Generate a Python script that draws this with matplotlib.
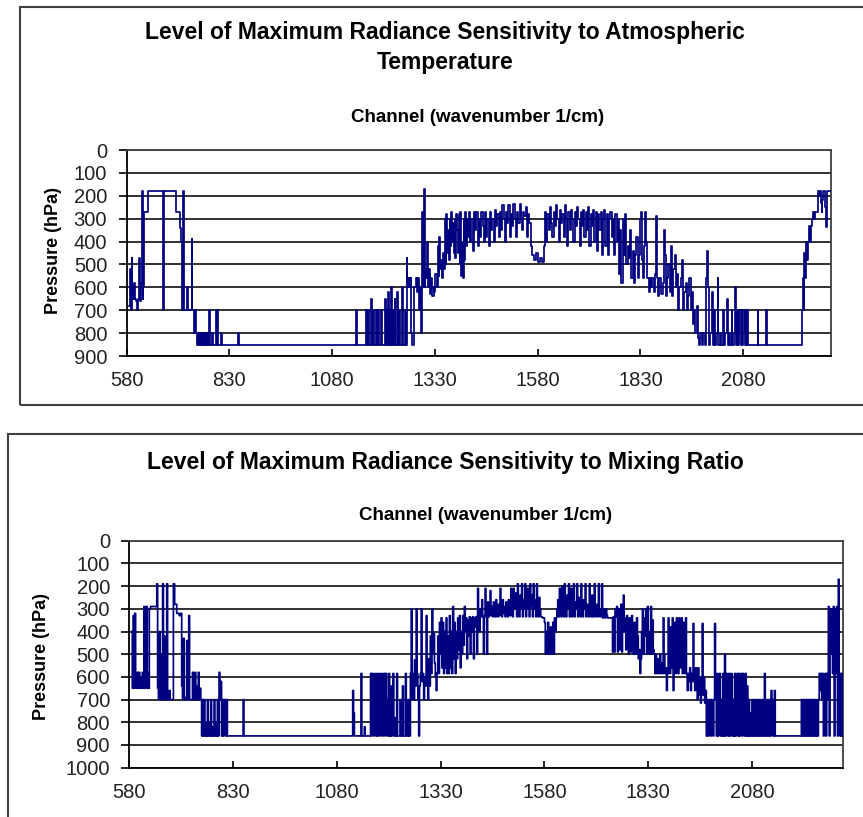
import matplotlib
matplotlib.use("Agg")
import matplotlib.pyplot as plt
from matplotlib.patches import Rectangle

# channel wavenumber (1/cm) and pressure level (hPa) of max sensitivity
temp_points = [
    (586, 680), (588, 520), (590, 700), (592, 470), (594, 600), (596, 650), (598, 580), (600, 650),
    (603, 660), (606, 700), (608, 650), (611, 470), (613, 660), (615, 580), (617, 180), (619, 650),
    (621, 600), (623, 270), (631, 180), (668, 700), (670, 180), (701, 270), (709, 340), (712, 400),
    (714, 700), (716, 400), (718, 180), (720, 700), (727, 600), (729, 700), (738, 390), (740, 700),
    (744, 800), (746, 700), (748, 800), (752, 850), (754, 800), (757, 850), (759, 800), (761, 850),
    (763, 800), (766, 850), (768, 800), (770, 850), (772, 800), (774, 850), (776, 800), (779, 850),
    (781, 700), (783, 850), (787, 800), (789, 850), (797, 700), (799, 850), (801, 700), (803, 850),
    (809, 800), (812, 850), (852, 800), (854, 850), (1138, 700), (1140, 850), (1163, 700), (1165, 850),
    (1167, 700), (1169, 850), (1175, 650), (1177, 850), (1179, 700), (1181, 850), (1187, 700), (1189, 850),
    (1192, 700), (1194, 850), (1200, 700), (1202, 850), (1208, 650), (1210, 850), (1212, 700), (1214, 850),
    (1216, 620), (1218, 850), (1220, 700), (1222, 850), (1224, 600), (1226, 850), (1228, 700), (1230, 850),
    (1232, 650), (1234, 850), (1238, 620), (1240, 850), (1242, 700), (1244, 850), (1250, 600), (1252, 850),
    (1257, 700), (1259, 850), (1261, 470), (1263, 600), (1266, 560), (1268, 600), (1271, 560), (1273, 800),
    (1275, 850), (1278, 800), (1280, 600), (1283, 560), (1286, 620), (1289, 560), (1292, 700), (1295, 600),
    (1297, 800), (1299, 270), (1301, 600), (1303, 170), (1305, 600), (1307, 520), (1309, 560), (1311, 400),
    (1313, 600), (1315, 520), (1318, 630), (1321, 560), (1324, 640), (1327, 600), (1329, 620), (1331, 540),
    (1334, 600), (1337, 420), (1339, 550), (1341, 380), (1343, 520), (1345, 480), (1348, 560), (1350, 450),
    (1352, 520), (1354, 300), (1356, 500), (1358, 280), (1360, 450), (1362, 350), (1364, 480), (1366, 300),
    (1368, 420), (1370, 270), (1372, 400), (1374, 320), (1376, 450), (1378, 300), (1380, 470), (1382, 280),
    (1384, 350), (1386, 450), (1388, 280), (1390, 500), (1392, 270), (1394, 550), (1396, 400), (1398, 560),
    (1400, 300), (1402, 480), (1404, 270), (1406, 420), (1408, 300), (1410, 380), (1413, 270), (1416, 400),
    (1419, 300), (1422, 440), (1425, 270), (1428, 350), (1431, 270), (1434, 420), (1437, 300), (1440, 380),
    (1443, 270), (1446, 330), (1449, 400), (1452, 270), (1455, 380), (1458, 300), (1461, 420), (1464, 270),
    (1467, 350), (1470, 300), (1473, 400), (1476, 260), (1479, 330), (1482, 280), (1485, 380), (1488, 270),
    (1491, 350), (1494, 240), (1497, 300), (1500, 400), (1503, 270), (1506, 320), (1509, 240), (1512, 380),
    (1515, 280), (1518, 330), (1521, 235), (1524, 300), (1527, 380), (1530, 270), (1533, 320), (1536, 235),
    (1539, 300), (1542, 350), (1545, 270), (1548, 290), (1551, 250), (1554, 380), (1557, 280), (1560, 320),
    (1563, 420), (1566, 460), (1570, 480), (1575, 450), (1580, 490), (1585, 470), (1590, 490), (1595, 420),
    (1598, 270), (1601, 400), (1604, 280), (1607, 350), (1610, 250), (1613, 320), (1616, 380), (1619, 270),
    (1622, 330), (1625, 240), (1628, 300), (1631, 400), (1634, 260), (1637, 320), (1640, 280), (1643, 380),
    (1646, 240), (1649, 300), (1652, 420), (1655, 270), (1658, 350), (1661, 260), (1664, 300), (1667, 400),
    (1670, 270), (1673, 330), (1676, 250), (1679, 300), (1682, 420), (1685, 270), (1688, 330), (1691, 260),
    (1694, 380), (1697, 270), (1700, 350), (1703, 250), (1706, 420), (1709, 280), (1712, 330), (1715, 260),
    (1718, 400), (1721, 270), (1724, 440), (1727, 280), (1730, 350), (1733, 270), (1736, 460), (1739, 300),
    (1742, 260), (1745, 420), (1748, 280), (1751, 460), (1754, 300), (1757, 270), (1760, 380), (1763, 300),
    (1766, 460), (1769, 280), (1772, 400), (1775, 300), (1778, 540), (1781, 350), (1784, 580), (1787, 300),
    (1790, 460), (1793, 280), (1796, 500), (1799, 420), (1802, 470), (1805, 350), (1808, 560), (1811, 440),
    (1814, 580), (1817, 460), (1820, 380), (1823, 560), (1826, 460), (1829, 300), (1831, 270), (1833, 480),
    (1836, 560), (1839, 420), (1842, 270), (1844, 400), (1847, 560), (1850, 620), (1853, 560), (1856, 600),
    (1859, 560), (1862, 620), (1865, 540), (1868, 290), (1870, 560), (1873, 640), (1876, 560), (1880, 630),
    (1884, 580), (1887, 350), (1889, 460), (1892, 640), (1895, 560), (1898, 500), (1901, 620), (1904, 420),
    (1907, 640), (1910, 520), (1913, 460), (1916, 600), (1919, 540), (1922, 700), (1925, 600), (1928, 560),
    (1931, 480), (1934, 700), (1937, 620), (1940, 580), (1943, 700), (1946, 640), (1949, 560), (1952, 700),
    (1955, 620), (1958, 760), (1961, 700), (1964, 800), (1967, 680), (1970, 820), (1973, 850), (1976, 800),
    (1979, 850), (1983, 800), (1986, 850), (1990, 560), (1992, 440), (1994, 600), (1997, 850), (2000, 800),
    (2003, 620), (2006, 850), (2009, 700), (2012, 850), (2015, 800), (2018, 560), (2020, 850), (2024, 800),
    (2027, 850), (2031, 700), (2033, 850), (2037, 800), (2040, 650), (2042, 850), (2046, 800), (2049, 850),
    (2052, 700), (2054, 850), (2058, 800), (2060, 600), (2062, 850), (2065, 700), (2067, 850), (2070, 700),
    (2072, 800), (2074, 850), (2076, 700), (2078, 850), (2080, 800), (2082, 700), (2084, 850), (2086, 700),
    (2088, 850), (2090, 700), (2092, 850), (2115, 700), (2117, 850), (2136, 700), (2138, 850), (2223, 700),
    (2225, 560), (2227, 700), (2229, 450), (2231, 560), (2233, 400), (2235, 480), (2237, 400), (2240, 330),
    (2243, 400), (2245, 330), (2247, 300), (2249, 270), (2252, 300), (2254, 270), (2261, 180), (2264, 200),
    (2266, 180), (2269, 230), (2271, 270), (2273, 220), (2275, 180), (2279, 250), (2281, 335), (2283, 180),
    (2293, 180),
]

mix_points = [
    (586, 400), (587, 650), (589, 330), (591, 650), (593, 320), (595, 600), (597, 650), (599, 580),
    (601, 650), (603, 580), (605, 650), (607, 600), (609, 650), (611, 580), (613, 650), (615, 290),
    (617, 650), (619, 600), (621, 290), (623, 650), (625, 580), (627, 650), (628, 300), (631, 290),
    (646, 190), (648, 650), (650, 700), (652, 400), (654, 700), (656, 500), (658, 700), (660, 190),
    (662, 700), (664, 420), (666, 700), (668, 650), (670, 190), (672, 700), (676, 660), (678, 700),
    (686, 190), (689, 280), (694, 320), (700, 330), (704, 320), (706, 640), (708, 700), (710, 430),
    (712, 700), (716, 690), (718, 440), (720, 700), (723, 330), (725, 700), (732, 580), (734, 700),
    (738, 580), (740, 700), (742, 640), (744, 700), (746, 580), (748, 700), (750, 650), (752, 700),
    (754, 860), (756, 700), (758, 860), (760, 700), (762, 860), (764, 800), (766, 860), (768, 700),
    (770, 860), (772, 800), (774, 860), (776, 700), (778, 860), (780, 820), (782, 860), (784, 700),
    (786, 860), (788, 800), (790, 860), (792, 700), (794, 860), (796, 580), (798, 700), (800, 620),
    (802, 860), (804, 700), (806, 860), (808, 800), (810, 700), (812, 860), (814, 700), (816, 860),
    (854, 700), (856, 860), (1118, 660), (1120, 760), (1122, 860), (1138, 585), (1140, 860), (1146, 820),
    (1148, 860), (1161, 585), (1163, 860), (1164, 585), (1166, 740), (1168, 860), (1170, 585), (1172, 660),
    (1174, 860), (1176, 585), (1178, 860), (1180, 740), (1182, 585), (1184, 860), (1186, 700), (1188, 585),
    (1190, 860), (1192, 780), (1194, 585), (1196, 860), (1198, 585), (1200, 700), (1202, 860), (1205, 585),
    (1207, 860), (1209, 640), (1211, 860), (1213, 700), (1215, 585), (1217, 860), (1219, 780), (1221, 860),
    (1224, 585), (1226, 860), (1232, 700), (1234, 860), (1238, 640), (1240, 860), (1245, 585), (1247, 860),
    (1251, 700), (1253, 860), (1257, 585), (1259, 300), (1261, 700), (1263, 585), (1265, 700), (1267, 525),
    (1269, 640), (1271, 300), (1273, 585), (1275, 700), (1277, 860), (1279, 640), (1281, 585), (1283, 300),
    (1285, 620), (1287, 585), (1289, 700), (1291, 600), (1293, 640), (1295, 330), (1297, 585), (1299, 700),
    (1301, 520), (1303, 640), (1305, 420), (1307, 585), (1309, 300), (1311, 500), (1313, 410), (1315, 540),
    (1317, 600), (1319, 660), (1321, 580), (1323, 420), (1325, 585), (1327, 360), (1329, 500), (1331, 340),
    (1333, 560), (1335, 360), (1337, 585), (1339, 400), (1341, 560), (1343, 340), (1345, 585), (1347, 420),
    (1349, 585), (1351, 330), (1353, 560), (1355, 400), (1357, 585), (1359, 290), (1361, 520), (1363, 360),
    (1365, 585), (1367, 400), (1369, 520), (1371, 340), (1373, 480), (1375, 330), (1377, 560), (1379, 400),
    (1381, 500), (1383, 330), (1385, 460), (1387, 290), (1389, 400), (1391, 340), (1393, 520), (1395, 350),
    (1397, 420), (1399, 335), (1401, 500), (1403, 340), (1405, 400), (1407, 335), (1409, 520), (1411, 340),
    (1413, 380), (1415, 335), (1417, 500), (1419, 210), (1421, 335), (1423, 400), (1425, 300), (1427, 335),
    (1429, 260), (1431, 335), (1433, 500), (1435, 330), (1437, 210), (1439, 335), (1441, 500), (1443, 270),
    (1445, 335), (1447, 300), (1449, 220), (1451, 330), (1453, 290), (1455, 335), (1457, 270), (1459, 300),
    (1461, 335), (1463, 260), (1465, 300), (1467, 335), (1469, 280), (1471, 330), (1473, 210), (1475, 300),
    (1477, 335), (1479, 260), (1481, 320), (1483, 290), (1485, 335), (1487, 270), (1489, 310), (1491, 335),
    (1493, 260), (1495, 290), (1497, 330), (1499, 210), (1501, 300), (1503, 335), (1505, 210), (1507, 270),
    (1509, 300), (1511, 230), (1513, 335), (1515, 190), (1517, 290), (1519, 335), (1521, 240), (1523, 300),
    (1525, 190), (1527, 335), (1529, 260), (1531, 300), (1533, 190), (1535, 335), (1537, 270), (1539, 210),
    (1541, 300), (1543, 335), (1545, 190), (1547, 290), (1549, 240), (1551, 335), (1553, 190), (1555, 300),
    (1557, 260), (1559, 335), (1561, 190), (1563, 300), (1565, 335), (1567, 250), (1569, 300), (1571, 335),
    (1575, 340), (1580, 360), (1582, 500), (1584, 400), (1586, 500), (1588, 360), (1590, 450), (1592, 500),
    (1594, 380), (1596, 500), (1598, 400), (1600, 360), (1602, 500), (1604, 340), (1606, 400), (1608, 340),
    (1610, 300), (1612, 260), (1614, 335), (1616, 210), (1618, 300), (1620, 335), (1622, 200), (1624, 300),
    (1626, 335), (1628, 190), (1630, 280), (1632, 335), (1634, 240), (1636, 300), (1638, 190), (1640, 335),
    (1642, 280), (1644, 210), (1646, 335), (1648, 300), (1650, 190), (1652, 335), (1654, 270), (1656, 300),
    (1658, 190), (1660, 335), (1662, 250), (1664, 300), (1666, 335), (1668, 190), (1670, 300), (1672, 335),
    (1674, 260), (1676, 300), (1678, 190), (1680, 335), (1682, 280), (1684, 300), (1686, 335), (1688, 190),
    (1690, 300), (1692, 335), (1694, 240), (1696, 335), (1698, 300), (1700, 190), (1702, 335), (1704, 280),
    (1706, 300), (1708, 335), (1710, 190), (1712, 300), (1714, 335), (1716, 300), (1718, 190), (1720, 340),
    (1722, 300), (1724, 335), (1726, 340), (1728, 300), (1730, 330), (1732, 340), (1744, 490), (1746, 335),
    (1748, 490), (1750, 300), (1752, 335), (1754, 290), (1756, 490), (1758, 300), (1760, 400), (1762, 480),
    (1764, 280), (1766, 490), (1768, 300), (1770, 240), (1772, 400), (1774, 340), (1776, 480), (1778, 330),
    (1780, 450), (1782, 500), (1784, 340), (1786, 420), (1788, 490), (1790, 330), (1792, 400), (1794, 500),
    (1796, 360), (1798, 450), (1800, 500), (1802, 340), (1804, 420), (1806, 520), (1808, 480), (1810, 585),
    (1812, 520), (1814, 400), (1816, 300), (1818, 500), (1820, 340), (1822, 420), (1824, 300), (1826, 500),
    (1828, 290), (1830, 450), (1832, 500), (1834, 400), (1836, 290), (1838, 500), (1840, 350), (1842, 480),
    (1844, 500), (1846, 585), (1848, 500), (1850, 585), (1852, 520), (1854, 585), (1856, 560), (1858, 500),
    (1860, 585), (1862, 540), (1864, 585), (1866, 340), (1868, 500), (1870, 585), (1872, 560), (1874, 660),
    (1876, 585), (1878, 340), (1880, 500), (1882, 585), (1884, 380), (1886, 560), (1888, 340), (1890, 660),
    (1892, 480), (1894, 360), (1896, 585), (1898, 340), (1900, 500), (1902, 585), (1904, 340), (1906, 560),
    (1908, 480), (1910, 340), (1912, 585), (1914, 360), (1916, 500), (1918, 585), (1920, 340), (1922, 585),
    (1924, 660), (1926, 585), (1928, 620), (1930, 560), (1932, 660), (1934, 585), (1936, 620), (1938, 365),
    (1940, 585), (1942, 660), (1944, 560), (1946, 620), (1948, 700), (1950, 560), (1952, 680), (1954, 600),
    (1956, 715), (1958, 640), (1960, 365), (1962, 680), (1964, 600), (1966, 715), (1968, 660), (1970, 860),
    (1972, 700), (1974, 860), (1976, 760), (1978, 700), (1980, 860), (1982, 700), (1984, 760), (1986, 860),
    (1988, 700), (1990, 365), (1992, 700), (1994, 860), (1996, 585), (1998, 860), (2000, 700), (2002, 585),
    (2004, 860), (2006, 700), (2008, 860), (2010, 585), (2012, 860), (2014, 500), (2016, 860), (2018, 585),
    (2020, 700), (2022, 860), (2024, 585), (2026, 860), (2028, 760), (2030, 585), (2032, 860), (2034, 700),
    (2036, 860), (2038, 585), (2040, 860), (2042, 700), (2044, 585), (2046, 860), (2048, 585), (2050, 860),
    (2052, 760), (2054, 585), (2056, 860), (2058, 585), (2060, 700), (2062, 860), (2064, 585), (2066, 860),
    (2068, 640), (2070, 860), (2072, 700), (2074, 860), (2076, 760), (2078, 860), (2080, 700), (2082, 860),
    (2086, 700), (2088, 860), (2092, 700), (2094, 860), (2098, 700), (2100, 860), (2104, 700), (2106, 860),
    (2110, 585), (2112, 860), (2116, 700), (2118, 860), (2121, 700), (2123, 860), (2126, 660), (2128, 700),
    (2130, 860), (2134, 660), (2136, 860), (2199, 700), (2201, 860), (2204, 700), (2206, 860), (2209, 700),
    (2211, 860), (2214, 700), (2216, 860), (2219, 700), (2221, 860), (2224, 700), (2226, 860), (2229, 700),
    (2231, 860), (2234, 700), (2236, 860), (2240, 700), (2242, 585), (2244, 660), (2246, 585), (2248, 700),
    (2250, 585), (2252, 860), (2254, 660), (2256, 585), (2258, 860), (2260, 585), (2262, 700), (2264, 290),
    (2266, 860), (2268, 300), (2270, 500), (2272, 300), (2274, 585), (2276, 290), (2278, 860), (2280, 300),
    (2282, 585), (2284, 290), (2286, 860), (2288, 170), (2290, 585), (2292, 860), (2294, 585), (2296, 860),
    (2298, 585), (2300, 860),
]

x_ticks = [580, 830, 1080, 1330, 1580, 1830, 2080]
temp_levels = list(range(0, 1000, 100))
mix_levels = list(range(0, 1100, 100))

W, H = 863, 817
fig = plt.figure(figsize=(W / 100, H / 100), dpi=100)
fig.patch.set_facecolor("white")
plt.rcParams["font.family"] = ["Liberation Sans", "DejaVu Sans"]


def fx(px):
    return px / W


def fy(py):
    return 1 - py / H


# chart frames (both run off the right edge, the lower one off the bottom too)
fig.add_artist(Rectangle((fx(19.5), fy(405)), 1.0, fy(7) - fy(405), transform=fig.transFigure,
                         fill=False, ec="#404040", lw=1.5))
fig.add_artist(Rectangle((fx(8), -0.1), 1.0, fy(434) + 0.1, transform=fig.transFigure,
                         fill=False, ec="#404040", lw=1.5))


def setup(ax, pts, levels, xmax):
    wn, p = zip(*pts)
    ax.step(wn, p, where="post", color="#000080", lw=1.25, zorder=3)
    ax.set_xlim(580, xmax)
    ax.set_ylim(levels[-1], 0)
    ax.set_yticks(levels)
    ax.set_xticks(x_ticks)
    ax.set_xticklabels([str(t) for t in x_ticks])
    ax.yaxis.grid(True, color="#202020", lw=1.3)
    ax.set_axisbelow(True)
    for s in ["left", "bottom"]:
        ax.spines[s].set_color("black")
        ax.spines[s].set_linewidth(1.3)
    for s in ["top", "right"]:
        ax.spines[s].set_color("#404040")
        ax.spines[s].set_linewidth(1.3)
    ax.tick_params(axis="x", direction="in", length=5, width=1.2, pad=11, labelsize=14.5)
    ax.tick_params(axis="y", direction="out", length=6, width=1.2, pad=8, labelsize=14.5)
    ax.tick_params(labelcolor="#222222")


# top chart
ax1 = fig.add_axes([fx(126.6), fy(356), fx(830.7) - fx(126.6), fy(150) - fy(356)])
setup(ax1, temp_points, temp_levels, 2293)
fig.text(fx(445), fy(33), "Level of Maximum Radiance Sensitivity to Atmospheric",
         ha="center", va="center", fontsize=16.5, fontweight="bold")
fig.text(fx(445), fy(62), "Temperature", ha="center", va="center", fontsize=16.5, fontweight="bold")
fig.text(fx(478), fy(118), "Channel (wavenumber 1/cm)", ha="center", va="center",
         fontsize=13.5, fontweight="bold")
fig.text(fx(53), fy(251), "Pressure (hPa)", ha="center", va="center", rotation=90,
         fontsize=13, fontweight="bold")

# bottom chart
ax2 = fig.add_axes([fx(129.4), fy(767.7), fx(843.3) - fx(129.4), fy(540.7) - fy(767.7)])
setup(ax2, mix_points, mix_levels, 2300)
fig.text(fx(445), fy(462), "Level of Maximum Radiance Sensitivity to Mixing Ratio",
         ha="center", va="center", fontsize=16.5, fontweight="bold")
fig.text(fx(486), fy(515), "Channel (wavenumber 1/cm)", ha="center", va="center",
         fontsize=13.5, fontweight="bold")
fig.text(fx(42), fy(657), "Pressure (hPa)", ha="center", va="center", rotation=90,
         fontsize=13, fontweight="bold")

fig.savefig("out.png", dpi=100, facecolor="white")
